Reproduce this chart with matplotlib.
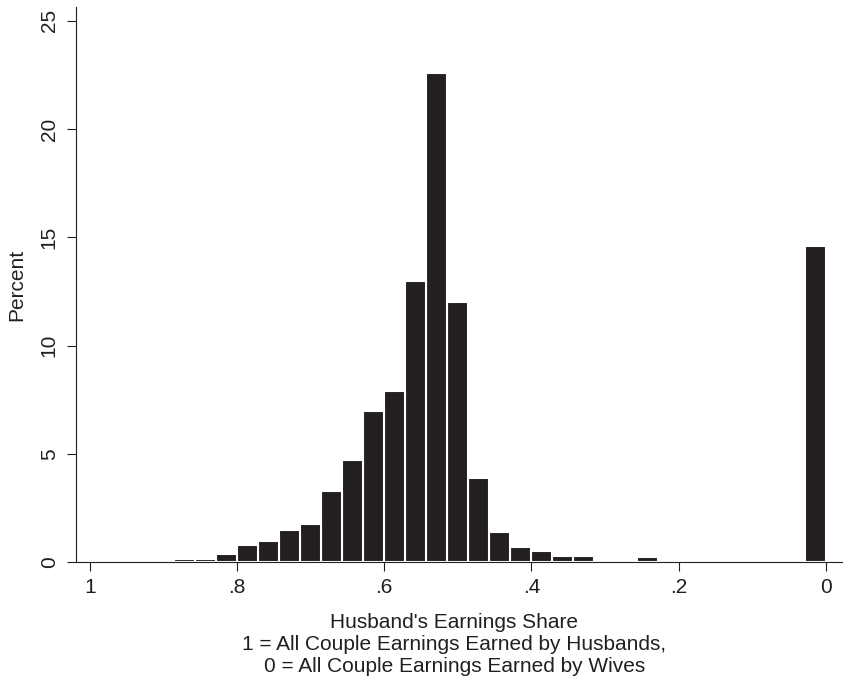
import matplotlib
matplotlib.use("Agg")
import matplotlib.pyplot as plt
import numpy as np

plt.rcParams['font.family'] = ['Liberation Sans', 'DejaVu Sans']

# histogram of husband's earnings share, 35 equal bins on [0, 1]
bin_width = 1 / 35
bin_index = list(range(31))
percent = [14.6, 0, 0, 0, 0, 0, 0, 0, 0.25, 0, 0,
           0.3, 0.3, 0.5, 0.7, 1.4, 3.9, 12.0, 22.6, 13.0, 7.9,
           7.0, 4.7, 3.3, 1.75, 1.5, 1.0, 0.8, 0.4, 0.15, 0.15]

x_ticks = [1, 0.8, 0.6, 0.4, 0.2, 0]
x_ticklabels = ['1', '.8', '.6', '.4', '.2', '0']
y_ticks = [0, 5, 10, 15, 20, 25]

fig = plt.figure(figsize=(8.43, 6.83), dpi=100)
ax = fig.add_axes([0.0902, 0.1767, 0.9098, 0.8131])

left = np.array(bin_index) * bin_width
ax.bar(left, percent, width=bin_width, align='edge',
       color='#231f20', edgecolor='white', linewidth=1.5, zorder=1)

ax.set_xlim(1.019, -0.0235)
ax.set_ylim(0, 25.63)

ax.set_xticks(x_ticks)
ax.set_xticklabels(x_ticklabels)
ax.set_yticks(y_ticks)
ax.set_yticklabels([str(v) for v in y_ticks], rotation=90, va='center')

ax.tick_params(direction='out', length=6.5, width=0.8, colors='#231f20',
               labelsize=15, labelcolor='#231f20', pad=5)
ax.tick_params(axis='y', pad=6)

for side in ['top', 'right']:
    ax.spines[side].set_visible(False)
for side in ['left', 'bottom']:
    ax.spines[side].set_linewidth(0.8)
    ax.spines[side].set_color('#231f20')

ax.set_ylabel('Percent', fontsize=15, color='#231f20')
ax.yaxis.set_label_coords(-0.065, 0.5)
ax.set_xlabel("Husband's Earnings Share\n"
              "1 = All Couple Earnings Earned by Husbands,\n"
              "0 = All Couple Earnings Earned by Wives",
              fontsize=15, color='#231f20', linespacing=1.2)
ax.xaxis.set_label_coords(0.493, -0.091)

fig.savefig('out.png', dpi=100)
